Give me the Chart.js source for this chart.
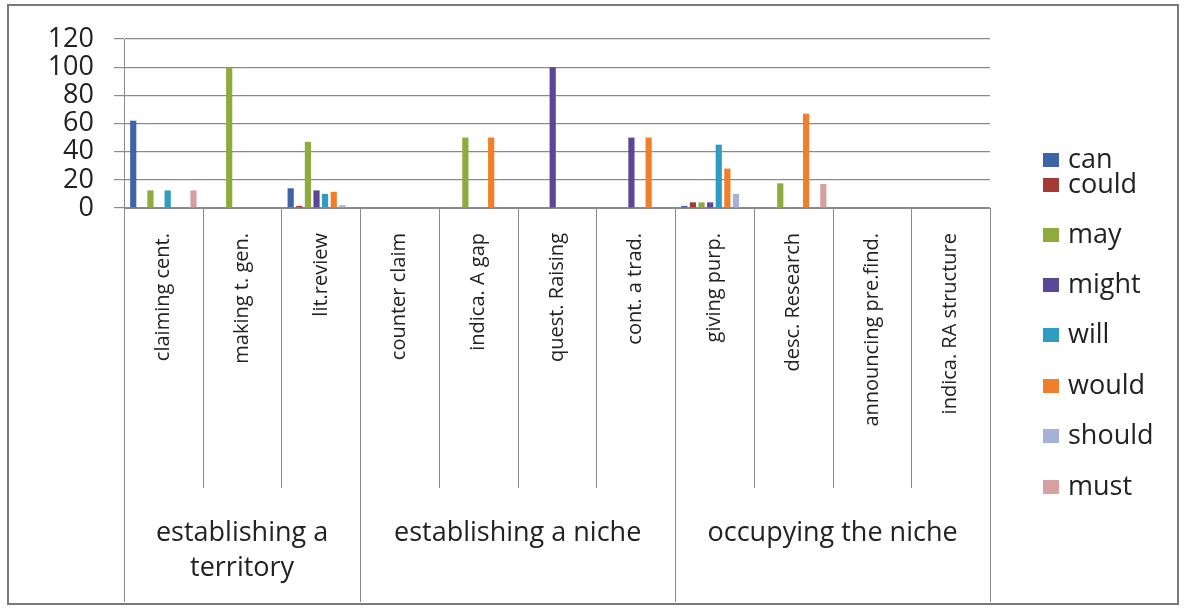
<!DOCTYPE html>
<html>
<head>
<meta charset="utf-8">
<script src="https://cdn.jsdelivr.net/npm/chart.js@4.4.1/dist/chart.umd.min.js"></script>
<style>
    body { margin: 0; background: #fff; }
    #wrap { width: 1185px; height: 608px; }
</style>
</head>
<body>
<div id="wrap"><canvas id="myChart" width="1185" height="608"></canvas></div>
<script>
// categories along the x axis, and the three groups they belong to
const categories = [
    'claiming cent.', 'making t. gen.', 'lit.review',
    'counter claim', 'indica. A gap', 'quest. Raising', 'cont. a trad.',
    'giving purp.', 'desc. Research', 'announcing pre.find.', 'indica. RA structure',
];
const groupNames = [['establishing a', 'territory'], ['establishing a niche'], ['occupying the niche']];
const groupSizes = [3, 4, 4];

const yTicks = [0, 20, 40, 60, 80, 100, 120];

const seriesNames = ['can', 'could', 'may', 'might', 'will', 'would', 'should', 'must'];
const canValues    = [62, 0, 14, 0, 0, 0, 0, 1.5, 0, 0, 0];
const couldValues  = [0, 0, 1.5, 0, 0, 0, 0, 4, 0, 0, 0];
const mayValues    = [12.5, 100, 47, 0, 50, 0, 0, 4, 17.5, 0, 0];
const mightValues  = [0, 0, 12.5, 0, 0, 100, 50, 4, 0, 0, 0];
const willValues   = [12.5, 0, 10, 0, 0, 0, 0, 45, 0, 0, 0];
const wouldValues  = [0, 0, 11.5, 0, 50, 0, 50, 28, 67, 0, 0];
const shouldValues = [0, 0, 2, 0, 0, 0, 0, 10, 0, 0, 0];
const mustValues   = [12.5, 0, 0, 0, 0, 0, 0, 0, 17, 0, 0];

const seriesValues = [canValues, couldValues, mayValues, mightValues, willValues, wouldValues, shouldValues, mustValues];
const seriesColors = ['#3e64a6', '#a33a36', '#8fab3f', '#5b4797', '#2f9cc2', '#f07e2a', '#a5b2d8', '#d6a0a0'];

const FONT = 'Open Sans';

// frame, category separators, group labels and the legend
const decorations = {
    id: 'decorations',
    afterDraw(chart) {
        const ctx = chart.ctx;
        const area = chart.chartArea;
        const step = (area.right - area.left) / categories.length;

        ctx.save();
        // outer frame
        ctx.strokeStyle = '#7a7a7a';
        ctx.lineWidth = 2;
        ctx.strokeRect(8, 5, 1170, 599);

        // separators between categories
        ctx.strokeStyle = '#8a8a8a';
        ctx.lineWidth = 1;
        const groupEdges = [0];
        groupSizes.forEach((n) => groupEdges.push(groupEdges[groupEdges.length - 1] + n));
        for (let i = 0; i <= categories.length; i++) {
            const x = Math.round(area.left + i * step) + 0.5;
            const bottom = groupEdges.includes(i) ? 602 : 488;
            ctx.beginPath();
            ctx.moveTo(x, area.bottom);
            ctx.lineTo(x, bottom);
            ctx.stroke();
        }

        // group labels
        ctx.fillStyle = '#222';
        ctx.font = `27px "${FONT}"`;
        ctx.textAlign = 'center';
        ctx.textBaseline = 'middle';
        groupNames.forEach((lines, g) => {
            const cx = area.left + ((groupEdges[g] + groupEdges[g + 1]) / 2) * step;
            lines.forEach((line, k) => ctx.fillText(line, cx, 533 + k * 35));
        });

        // legend
        const legendY = [160, 185, 235, 285, 335, 386, 436, 487];
        ctx.textAlign = 'left';
        chart.data.datasets.forEach((ds, i) => {
            ctx.fillStyle = ds.backgroundColor;
            ctx.fillRect(1043, legendY[i] - 7, 16, 14);
            ctx.fillStyle = '#222';
            ctx.fillText(ds.label, 1068, legendY[i]);
        });
        ctx.restore();
    },
};

const ctx = document.getElementById('myChart');
const chart = new Chart(ctx, {
    type: 'bar',
    data: {
        labels: categories,
        datasets: seriesNames.map((name, i) => ({
            label: name,
            data: seriesValues[i],
            backgroundColor: seriesColors[i],
            categoryPercentage: 0.875,
            barPercentage: 0.72,
        })),
    },
    options: {
        responsive: false,
        animation: false,
        layout: {
            padding: { top: 39, left: 0, right: 195, bottom: 120 },
        },
        plugins: {
            legend: { display: false },
            tooltip: { enabled: false },
        },
        scales: {
            x: {
                grid: { display: false },
                border: { color: '#8a8a8a' },
                ticks: {
                    autoSkip: false,
                    minRotation: 90,
                    maxRotation: 90,
                    padding: 17,
                    color: '#222',
                    font: { family: FONT, size: 20 },
                },
                afterFit(scale) {
                    scale.height = 280;
                },
            },
            y: {
                min: 0,
                max: 120,
                afterBuildTicks(scale) {
                    scale.ticks = yTicks.map((v) => ({ value: v }));
                },
                grid: { color: '#8a8a8a', tickLength: 10, lineWidth: 1.2 },
                border: { color: '#8a8a8a' },
                ticks: {
                    autoSkip: false,
                    padding: 20,
                    color: '#222',
                    font: { family: FONT, size: 27, lineHeight: 1 },
                },
                afterFit(scale) {
                    scale.width = 124;
                },
            },
        },
    },
    plugins: [decorations],
});
</script>
</body>
</html>
